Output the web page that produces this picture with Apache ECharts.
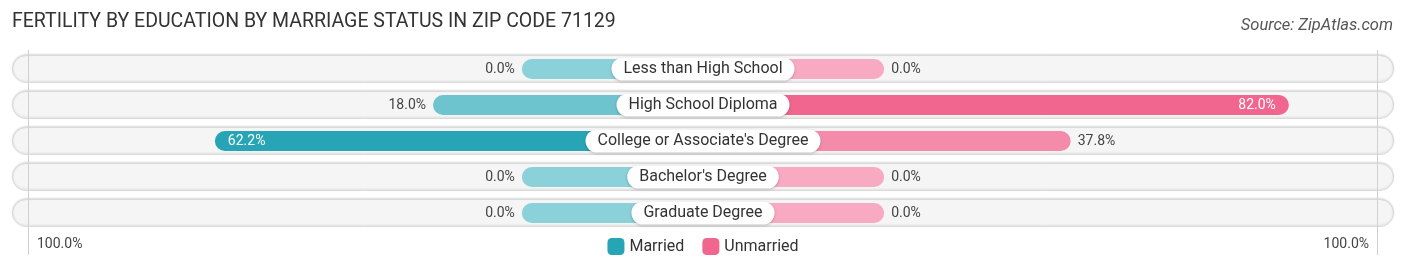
<!DOCTYPE html>
<html>
<head>
<meta charset="utf-8">
<script src="https://cdn.jsdelivr.net/npm/echarts@6/dist/echarts.min.js"></script>
<style>
	html, body { margin: 0; padding: 0; background: #fff; }
	#chart { width: 1406px; height: 270px; }
</style>
</head>
<body>
<div id="chart"></div>
<script>
const categories = ['Less than High School', 'High School Diploma', "College or Associate's Degree", "Bachelor's Degree", 'Graduate Degree'];
const married = [0.0, 18.0, 62.2, 0.0, 0.0];
const unmarried = [0.0, 82.0, 37.8, 0.0, 0.0];
const edgeLabel = '100.0%';

document.addEventListener('DOMContentLoaded', () => {
	/* 零值也画一截，所以每根条都加上这段底长 */
	const OFFSET = 36.7;
	const AXIS_MAX = 140;
	const font = 'Roboto, "Noto Sans", sans-serif';

	/* 按数值在浅色和深色之间插值 */
	const mix = (a, b, t) => {
		t = Math.max(0, Math.min(1, t));
		const pa = [1, 3, 5].map(i => parseInt(a.substr(i, 2), 16));
		const pb = [1, 3, 5].map(i => parseInt(b.substr(i, 2), 16));
		return 'rgb(' + pa.map((v, i) => Math.round(v + (pb[i] - v) * t)).join(',') + ')';
	};
	const marriedColor = v => mix('#8ad1d9', '#27a5b6', v / 62.2);
	const unmarriedColor = v => mix('#f8aac2', '#f0668f', v / 82);

	const valueLabel = (v, side) => {
		const inside = v >= 50;
		return {
			show: true,
			position: inside ? (side < 0 ? 'insideLeft' : 'insideRight') : (side < 0 ? 'left' : 'right'),
			distance: inside ? 13 : 7,
			color: inside ? '#fff' : '#444',
			fontSize: 14,
			fontFamily: font,
			formatter: v.toFixed(1) + '%'
		};
	};

	const chart = echarts.init(document.getElementById('chart'));
	chart.setOption({
		animation: false,
		title: [
			{
				text: 'FERTILITY BY EDUCATION BY MARRIAGE STATUS IN ZIP CODE 71129',
				left: 7,
				top: 7,
				textStyle: { fontSize: 19.5, fontWeight: 'normal', color: '#333', fontFamily: font }
			},
			{
				text: 'Source: ZipAtlas.com',
				right: 8,
				top: 12,
				textStyle: { fontSize: 16.5, fontWeight: 'normal', fontStyle: 'italic', color: '#555', fontFamily: font }
			}
		],
		legend: {
			left: 'center',
			bottom: 10,
			itemWidth: 17,
			itemHeight: 17,
			itemGap: 18,
			icon: 'roundRect',
			textStyle: { fontSize: 16, color: '#333', fontFamily: font },
			data: ['Married', 'Unmarried']
		},
		graphic: [
			{ type: 'text', left: 37, top: 237, style: { text: edgeLabel, fontSize: 14, fill: '#444', fontFamily: font } },
			{ type: 'text', right: 37, top: 237, style: { text: edgeLabel, fontSize: 14, fill: '#444', fontFamily: font } }
		],
		grid: [
			{ left: 12, right: 12, top: 51, bottom: 39 },
			{ left: 12, right: 12, top: 50, bottom: 15 }
		],
		xAxis: [
			{ gridIndex: 0, type: 'value', min: -AXIS_MAX, max: AXIS_MAX, show: false },
			{ gridIndex: 0, type: 'value', min: 0, max: 1, show: false },
			{ gridIndex: 1, type: 'value', min: -AXIS_MAX, max: AXIS_MAX, show: false }
		],
		yAxis: [
			{ gridIndex: 0, type: 'category', inverse: true, data: categories, show: false },
			{ gridIndex: 0, type: 'category', inverse: true, data: categories, show: false },
			{ gridIndex: 1, type: 'value', min: 0, max: 1, show: false }
		],
		series: [
			{
				name: 'bg',
				type: 'bar',
				xAxisIndex: 1,
				yAxisIndex: 1,
				barWidth: 28,
				silent: true,
				z: 1,
				itemStyle: {
					color: '#f5f5f5',
					borderColor: '#dadada',
					borderWidth: 1,
					borderRadius: 14,
					shadowColor: 'rgba(0,0,0,0.12)',
					shadowBlur: 2,
					shadowOffsetY: -1
				},
				data: categories.map(() => 1)
			},
			{
				name: 'edges',
				type: 'line',
				xAxisIndex: 2,
				yAxisIndex: 2,
				data: [],
				z: 2,
				markLine: {
					silent: true,
					symbol: 'none',
					label: { show: false },
					lineStyle: { color: '#d0d0d0', width: 1, type: 'solid' },
					data: [{ xAxis: -(OFFSET + 100) }, { xAxis: OFFSET + 100 }]
				}
			},
			{
				name: 'Married',
				type: 'bar',
				xAxisIndex: 0,
				yAxisIndex: 0,
				barWidth: 20,
				barGap: '-100%',
				z: 3,
				itemStyle: { color: '#27a5b6', borderRadius: 10 },
				data: married.map(v => ({
					value: -(OFFSET + v),
					itemStyle: { color: marriedColor(v) },
					label: valueLabel(v, -1)
				}))
			},
			{
				name: 'Unmarried',
				type: 'bar',
				xAxisIndex: 0,
				yAxisIndex: 0,
				barWidth: 20,
				barGap: '-100%',
				z: 3,
				itemStyle: { color: '#f0668f', borderRadius: 10 },
				data: unmarried.map(v => ({
					value: OFFSET + v,
					itemStyle: { color: unmarriedColor(v) },
					label: valueLabel(v, 1)
				}))
			},
			{
				name: 'names',
				type: 'scatter',
				xAxisIndex: 0,
				yAxisIndex: 0,
				symbolSize: 0,
				silent: true,
				z: 5,
				itemStyle: { opacity: 1 },
				label: {
					show: true,
					position: 'inside',
					formatter: p => categories[p.dataIndex],
					backgroundColor: '#fff',
					borderRadius: 12,
					padding: [4, 12, 3, 12],
					fontSize: 16,
					color: '#333',
					fontFamily: font,
					shadowColor: 'rgba(0,0,0,0.22)',
					shadowBlur: 3,
					shadowOffsetY: 1
				},
				data: categories.map((c, i) => [0, i])
			}
		]
	});
});
</script>
</body>
</html>
